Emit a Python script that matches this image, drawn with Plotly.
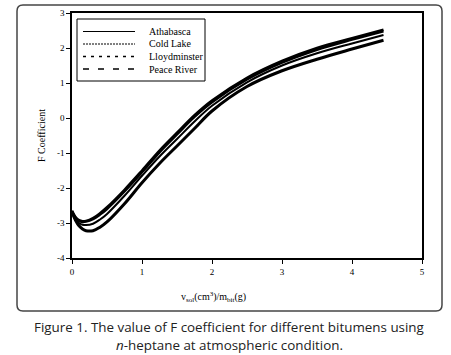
import plotly.graph_objects as go

# ---- data ----
x_vals = [0, 0.05, 0.1, 0.15, 0.2, 0.3, 0.4, 0.5, 0.75, 1.0, 1.25, 1.5, 1.75,
          2.0, 2.5, 3.0, 3.5, 4.0, 4.45]
athabasca = [-2.70, -2.92, -3.08, -3.17, -3.22, -3.22, -3.12, -2.97, -2.45, -1.85,
             -1.30, -0.80, -0.30, 0.20, 0.90, 1.35, 1.68, 1.97, 2.22]
cold_lake = [-2.68, -2.88, -3.00, -3.05, -3.06, -3.02, -2.90, -2.74, -2.22, -1.65,
             -1.10, -0.60, -0.10, 0.35, 1.02, 1.50, 1.85, 2.13, 2.37]
lloydminster = [-2.66, -2.85, -2.94, -2.97, -2.96, -2.89, -2.76, -2.60, -2.10, -1.55,
                -0.98, -0.47, 0.03, 0.45, 1.10, 1.58, 1.95, 2.24, 2.48]
peace_river = [-2.65, -2.83, -2.92, -2.95, -2.94, -2.86, -2.72, -2.55, -2.05, -1.50,
               -0.93, -0.42, 0.08, 0.50, 1.15, 1.63, 2.00, 2.28, 2.52]
series_names = ["Athabasca", "Cold Lake", "Lloydminster", "Peace River"]
x_ticks = [0, 1, 2, 3, 4, 5]
x_tick_labels = ["0", "1", "2", "3", "4", "5"]
y_ticks = [-4, -3, -2, -1, 0, 1, 2, 3]
y_tick_labels = ["-4", "-3", "-2", "-1", "0", "1", "2", "3"]

series = [athabasca, cold_lake, lloydminster, peace_river]
curve_styles = [
    dict(width=3, dash="solid"),
    dict(width=2, dash="solid"),
    dict(width=2.5, dash="solid"),
    dict(width=2.5, dash="solid"),
]
legend_styles = [
    dict(width=1, dash="solid"),
    dict(width=1, dash="2px,1px"),
    dict(width=1.5, dash="3px,5px"),
    dict(width=1.5, dash="6px,9px"),
]

SERIF = "Liberation Serif, Times New Roman, serif"
SANS = "Open Sans, Noto Sans, sans-serif"

fig = go.Figure()
for name, ys, st in zip(series_names, series, curve_styles):
    fig.add_trace(go.Scatter(x=x_vals, y=ys, mode="lines", name=name,
                             line=dict(color="black", shape="spline", **st),
                             showlegend=False))

W, H = 451, 355
L, R, T, B = 72, 422, 13, 258
pw, ph = R - L, B - T


def px(xp):
    return (xp - L) / pw


def py(yp):
    return (B - yp) / ph


# rounded outer frame, drawn as four straight edges and four corners
x0, x1, y0, y1, r = 17, 442, 5, 311, 6
frame_line = dict(color="#444444", width=1.5)
shapes = []
edges = [((x0 + r, y0), (x1 - r, y0)), ((x1, y0 + r), (x1, y1 - r)),
         ((x1 - r, y1), (x0 + r, y1)), ((x0, y1 - r), (x0, y0 + r))]
for (ax, ay), (bx, by) in edges:
    shapes.append(dict(type="line", xref="paper", yref="paper",
                       x0=px(ax), y0=py(ay), x1=px(bx), y1=py(by),
                       line=frame_line))
corners = [((x1 - r, y0), (x1, y0), (x1, y0 + r)),
           ((x1, y1 - r), (x1, y1), (x1 - r, y1)),
           ((x0 + r, y1), (x0, y1), (x0, y1 - r)),
           ((x0, y0 + r), (x0, y0), (x0 + r, y0))]
for (sx, sy), (cx, cy), (ex, ey) in corners:
    shapes.append(dict(type="path", xref="paper", yref="paper",
                       path=f"M{px(sx)},{py(sy)} Q{px(cx)},{py(cy)} {px(ex)},{py(ey)}",
                       line=frame_line))

# legend box
shapes.append(dict(type="rect", xref="paper", yref="paper",
                   x0=px(77), x1=px(205), y0=py(19), y1=py(81),
                   line=dict(color="black", width=1), fillcolor="white"))
annotations = []
leg_rows = [31.5, 44, 56.5, 69]
for name, st, yy in zip(series_names, legend_styles, leg_rows):
    shapes.append(dict(type="line", xref="paper", yref="paper",
                       x0=px(83), x1=px(135), y0=py(yy), y1=py(yy),
                       line=dict(color="black", **st)))
    annotations.append(dict(text=name, x=px(147), y=py(yy), xref="paper",
                            yref="paper", xanchor="left", yanchor="middle",
                            showarrow=False,
                            font=dict(family=SERIF, size=10, color="black")))

annotations += [
    dict(text="v<sub>sol</sub>(cm<sup>3</sup>)/m<sub>bit</sub>(g)",
         x=px(213), y=py(297), xref="paper", yref="paper",
         xanchor="center", yanchor="middle",
         showarrow=False, font=dict(family=SERIF, size=10, color="black")),
    dict(text="Figure 1. The value of F coefficient for different bitumens using",
         x=px(229), y=py(327), xref="paper", yref="paper", showarrow=False,
         xanchor="center", yanchor="middle",
         font=dict(family=SANS, size=13.4, color="#222")),
    dict(text="<i>n</i>-heptane at atmospheric condition.",
         x=px(229), y=py(345), xref="paper", yref="paper", showarrow=False,
         xanchor="center", yanchor="middle",
         font=dict(family=SANS, size=13.4, color="#222")),
]

fig.update_layout(
    width=W, height=H, autosize=False,
    margin=dict(l=L, r=W - R, t=T, b=H - B, pad=0, autoexpand=False),
    paper_bgcolor="white", plot_bgcolor="white",
    showlegend=False,
    xaxis=dict(range=[0, 5], tickvals=x_ticks, ticktext=x_tick_labels,
               showgrid=False, zeroline=False, automargin=False,
               showline=True, linecolor="black", linewidth=1.5, mirror=True,
               ticks="outside", ticklen=4, tickcolor="black",
               tickfont=dict(family=SERIF, size=9, color="black")),
    yaxis=dict(range=[-4, 3], tickvals=y_ticks, ticktext=y_tick_labels,
               showgrid=False, zeroline=False, automargin=False,
               showline=True, linecolor="black", linewidth=1.5, mirror=True,
               ticks="outside", ticklen=4, tickcolor="black",
               tickfont=dict(family=SERIF, size=9, color="black"),
               title=dict(text="F Coefficient", standoff=9,
                          font=dict(family=SERIF, size=10, color="black"))),
    shapes=shapes,
    annotations=annotations,
)

fig.write_html("out.html",
               config={"displayModeBar": False},
               post_script="document.body.style.margin='0';")
